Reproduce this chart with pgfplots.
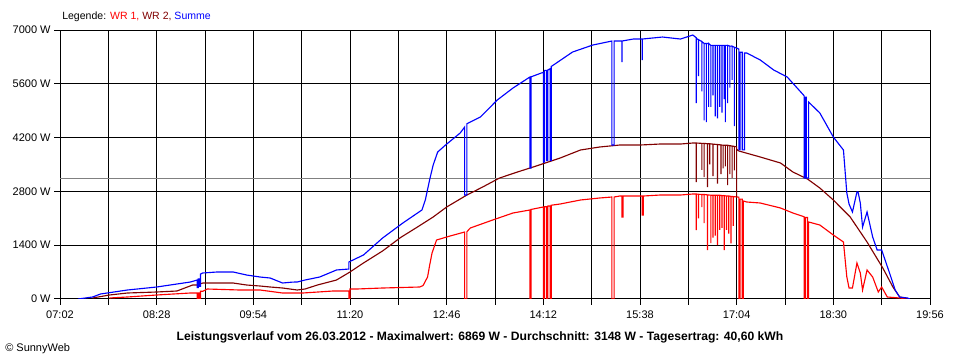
\documentclass[border=0pt]{standalone}
\usepackage{fontspec}
\setmainfont{Liberation Sans}
\usepackage{pgfplots}
\pgfplotsset{compat=1.18}
\definecolor{wrone}{RGB}{255,0,0}
\definecolor{wrtwo}{RGB}{128,0,0}
\definecolor{summe}{RGB}{0,0,255}
\definecolor{avg}{RGB}{128,128,128}
\begin{document}
\begin{tikzpicture}[x=0.75pt,y=0.75pt,font=\fontsize{8.25}{10}\selectfont]
\useasboundingbox (0,0) rectangle (960,360);
\begin{axis}[
  at={(45pt,45.75pt)}, anchor=south west, scale only axis,
  width=652.5pt, height=201.75pt,
  xmin=422, xmax=1196, ymin=0, ymax=7000,
  xtick={422,465,...,1196},
  xticklabels={07:02,,08:28,,09:54,,11:20,,12:46,,14:12,,15:38,,17:04,,18:30,,19:56},
  ytick={0,1400,...,7000},
  yticklabels={0 W,1400 W,2800 W,4200 W,5600 W,7000 W},
  grid=major, major grid style={black, line width=0.75pt},
  axis line style={black, line width=0.75pt},
  tick style={black, line width=0.75pt},
  tick align=outside, major tick length=4.5pt,
  xtick pos=lower, ytick pos=left,
  tick label style={font=\fontsize{8.25}{10}\selectfont},
  xticklabel style={yshift=-1pt},
  yticklabel style={xshift=1pt},
  every axis plot/.append style={line width=0.85pt, line join=miter},
]
\addplot[avg, line width=0.75pt] coordinates {(422,3148)(1196,3148)};
\addplot[wrone] coordinates {
(466,26)(482,52)(508,104)(538,156)(544,156)(544,0)(545,0)(545,156)(546,156)(546,0)(547,0)(547,200)(549,200)(553,260)(582,234)(600,234)(620,156)(638,156)(665,208)(679,208)(679,0)(680,0)(680,260)(686,260)(709,286)(742,312)(745,350)(749,572)(751,900)(753,1197)(757,1535)(769,1639)(782,1743)(782,0)(784,0)(784,1750)(787,1847)(807,2056)(825,2238)(840,2316)(840,0)(841,0)(841,2330)(852,2394)(852,0)(853,0)(853,2400)(855,2400)(855,0)(856,0)(856,2420)(858,2420)(858,0)(859,0)(859,2440)(867,2472)(885,2576)(902,2628)(913,2654)(913,0)(915,0)(915,2654)(920,2680)(922,2680)(922,2134)(923,2134)(923,2680)(940,2680)(940,2186)(941,2186)(941,2680)(956,2706)(974,2706)(985,2732)
(988,2732)(988,1795)(988,2732)(990,2725)(990,2100)(990,2725)(993,2720)(993,2390)(993,2720)(995,2720)(995,1977)(995,2720)(998,2710)(998,1275)(998,2710)(1001,2700)(1001,1457)(1001,2700)(1003,2700)(1003,1600)(1003,2700)(1005,2700)(1005,1650)(1005,2700)(1007,2700)(1007,1400)(1007,2700)(1009,2700)(1009,1800)(1009,2700)(1011,2690)(1011,1850)(1011,2690)(1013,2690)(1013,1275)(1013,2690)(1015,2680)(1015,1800)(1015,2680)(1017,2680)(1017,1700)(1017,2680)(1019,2670)(1019,1450)(1019,2670)(1021,2665)(1021,1900)(1021,2665)(1026,2650)(1026,0)(1027,0)(1027,2600)(1029,2600)(1029,0)(1030,0)(1030,2550)(1033,2524)(1045,2498)(1063,2368)(1074,2238)(1084,2140)(1084,0)(1085,0)(1085,2120)(1087,2120)(1087,0)(1088,0)(1088,2004)(1098,1925)(1110,1665)(1119,1483)(1122,572)(1124,286)(1127,286)(1131,937)(1134,677)(1136,234)(1140,755)(1145,572)(1150,182)(1153,312)(1158,52)(1169,26)(1178,0)
};
\addplot[wrtwo] coordinates {
(451,26)(466,104)(482,156)(508,182)(526,208)(540,364)(544,364)(549,416)(576,416)(588,364)(600,338)(609,312)(620,286)(633,234)(640,260)(651,364)(668,494)(680,703)(692,937)(709,1250)(725,1600)(740,1873)(754,2134)(766,2394)(784,2706)(798,2914)(813,3148)(829,3305)(843,3435)(867,3669)(885,3877)(902,3955)(920,4007)(938,4007)(956,4033)(974,4033)(985,4059)
(988,4059)(988,3044)(988,4059)(993,4050)(993,3357)(993,4050)(995,4050)(995,3174)(995,4050)(998,4040)(998,2914)(998,4040)(1000,4040)(1000,3500)(1000,4040)(1003,4030)(1003,3200)(1003,4030)(1007,4020)(1007,3000)(1007,4020)(1010,4010)(1010,3250)(1010,4010)(1012,4000)(1012,3400)(1012,4000)(1014,4000)(1014,3450)(1014,4000)(1016,4000)(1016,2966)(1016,4000)(1018,3990)(1018,3250)(1018,3990)(1020,3980)(1020,3150)(1020,3980)(1022,3970)(1022,3350)(1022,3970)(1024,3960)(1024,2654)(1024,3900)(1026,3851)(1045,3695)(1063,3539)(1074,3305)(1087,3122)(1098,2888)(1110,2576)(1125,2134)(1140,1483)(1154,807)(1163,312)(1169,52)(1178,0)
};
\addplot[summe] coordinates {
(438,0)(451,52)(458,130)(464,156)(482,234)(508,312)(526,390)(538,442)(544,494)(544,300)(545,300)(545,520)(546,520)(546,330)(547,330)(547,650)(549,677)(562,703)(576,703)(588,624)(600,572)(609,546)(620,416)(629,440)(633,442)(640,494)(653,572)(668,755)(679,780)(679,963)(692,1145)(709,1587)(727,1977)(744,2316)(747,2576)(751,3122)(754,3487)(758,3825)(765,4007)(778,4319)(782,4475)(782,2706)(784,2706)(784,4560)(787,4605)(796,4736)(811,5178)(825,5490)(840,5776)(840,3409)(841,3409)(841,5780)(852,5900)(852,3565)(853,3565)(853,5950)(855,5950)(855,3600)(856,3600)(856,5960)(858,5990)(858,3600)(859,3600)(859,6050)(861,6089)(878,6427)(896,6609)(913,6713)(913,4007)(915,4007)(915,6713)(922,6713)(922,6167)(922,6713)(932,6765)(940,6765)(940,6219)(940,6765)(958,6817)(974,6765)(985,6869)
(988,6800)(988,5100)(988,6780)(990,6750)(990,5800)(990,6750)(993,6700)(993,5400)(993,6700)(995,6650)(995,4650)(995,6650)(997,6650)(997,4600)(997,6650)(999,6650)(999,5000)(999,6650)(1001,6600)(1001,5000)(1001,6600)(1003,6600)(1003,5300)(1003,6600)(1005,6600)(1005,4750)(1005,6600)(1007,6600)(1007,4700)(1007,6600)(1009,6600)(1009,5000)(1009,6600)(1011,6600)(1011,4850)(1011,6600)(1013,6600)(1013,5200)(1013,6600)(1014,6600)(1014,4600)(1014,6600)(1016,6600)(1016,5100)(1016,6600)(1018,6580)(1018,5500)(1018,6580)(1020,6580)(1020,5700)(1020,6580)(1022,6550)(1022,4500)(1022,6550)(1024,6530)(1026,6500)(1026,3880)(1027,3880)(1027,6420)(1029,6420)(1029,3880)(1031,3880)(1031,6400)(1033,6401)(1045,6219)(1057,5958)(1069,5776)(1084,5290)(1084,3148)(1085,3148)(1085,5250)(1086,5250)(1086,3148)(1088,3148)(1088,5126)(1098,4840)(1110,4215)(1119,3877)(1122,2758)(1124,2470)(1127,2264)(1131,2784)(1132,2784)(1134,2498)(1136,1873)(1140,2264)(1145,1613)(1149,1275)(1153,1275)(1160,677)(1165,234)(1169,52)(1176,26)(1178,0)
};
\end{axis}
\node[anchor=west, inner sep=0pt, font=\fontsize{7.9}{10}\selectfont] at (62,343) {Legende: \textcolor{wrone}{WR 1,} \textcolor{wrtwo}{WR 2,} \textcolor{summe}{Summe}};
\node[anchor=center, inner sep=0pt, font=\fontsize{9.1}{11}\selectfont\bfseries] at (480,23) {Leistungsverlauf vom 26.03.2012 - Maximalwert: 6869 W - Durchschnitt: 3148 W - Tagesertrag: 40,60 kWh};
\node[anchor=west, inner sep=0pt] at (5,11) {© SunnyWeb};
\end{tikzpicture}
\end{document}
